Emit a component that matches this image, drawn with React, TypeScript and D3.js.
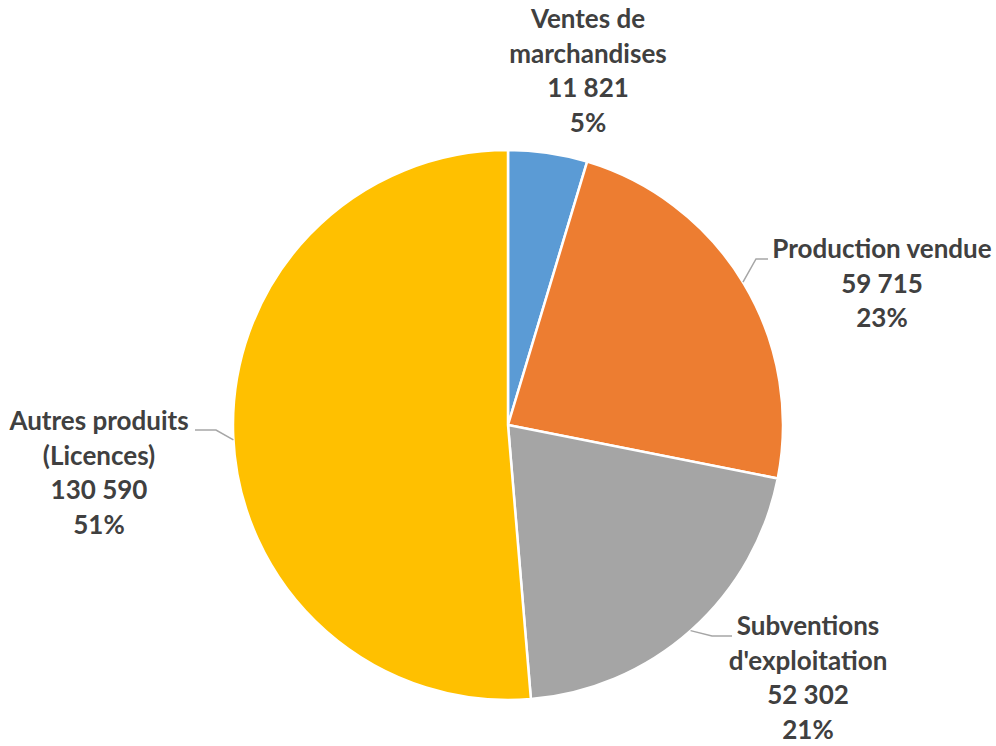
import React from "react";
import * as d3 from "d3";

const categories = ["Ventes de marchandises", "Production vendue", "Subventions d'exploitation", "Autres produits (Licences)"];
const labelLines = [
  ["Ventes de", "marchandises"],
  ["Production vendue"],
  ["Subventions", "d'exploitation"],
  ["Autres produits", "(Licences)"],
];
const values = [11821, 59715, 52302, 130590];
const valueLabels = ["11 821", "59 715", "52 302", "130 590"];
const percentLabels = ["5%", "23%", "21%", "51%"];
const colors = ["#5B9BD5", "#ED7D31", "#A5A5A5", "#FFC000"];

// layout: label anchor (center x, first baseline), leader line
const labelPos = [
  { x: 588, y: 28, leader: null as null | { angle: number; mid: [number, number]; end: [number, number] } },
  { x: 882, y: 258, leader: { angle: 58.7, mid: [756, 259] as [number, number], end: [768, 259] as [number, number] } },
  { x: 808, y: 635, leader: { angle: 138.4, mid: [712, 636] as [number, number], end: [732, 636] as [number, number] } },
  { x: 99, y: 430, leader: { angle: 266.9, mid: [216, 430] as [number, number], end: [195, 430] as [number, number] } },
];

const W = 996, H = 746;
const cx = 508, cy = 425, R = 275;
const lineH = 34.5;

export default function App() {
  const pie = d3.pie<number>().value((d) => d).sort(null);
  const arcs = pie(values);
  const arc = d3.arc<d3.PieArcDatum<number>>().innerRadius(0).outerRadius(R);
  return (
    <svg width={W} height={H} style={{ position: "absolute", left: 0, top: 0, background: "#fff" }}>
      <g transform={`translate(${cx},${cy})`}>
        {arcs.map((a, i) => (
          <path key={i} d={arc(a) || ""} fill={colors[i]} stroke="#fff" strokeWidth={2.5} strokeLinejoin="round" />
        ))}
      </g>
      {labelPos.map((p, i) => {
        if (!p.leader) return null;
        const t = (p.leader.angle * Math.PI) / 180;
        const sx = cx + R * Math.sin(t);
        const sy = cy - R * Math.cos(t);
        const pts = [[sx, sy], p.leader.mid, p.leader.end] as [number, number][];
        return <path key={"l" + i} d={d3.line()(pts) || ""} fill="none" stroke="#A6A6A6" strokeWidth={1.5} />;
      })}
      {labelPos.map((p, i) => {
        const lines = [...labelLines[i], valueLabels[i], percentLabels[i]];
        return (
          <text key={"t" + i} textAnchor="middle" fontFamily="Lato, 'Open Sans', sans-serif" fontWeight={700} fontSize={26} fill="#404040">
            {lines.map((s, j) => (
              <tspan key={j} x={p.x} y={p.y + j * lineH}>{s}</tspan>
            ))}
          </text>
        );
      })}
    </svg>
  );
}
